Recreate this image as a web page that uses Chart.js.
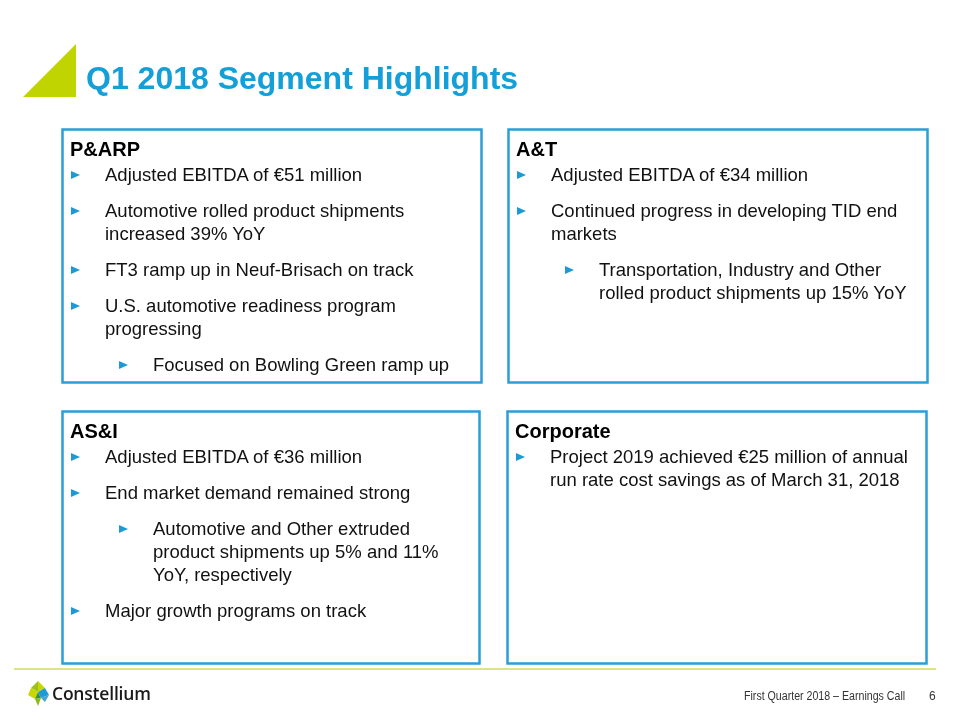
<!DOCTYPE html>
<html>
<head>
<meta charset="utf-8">
<script src="https://cdn.jsdelivr.net/npm/chart.js@4.4.1/dist/chart.umd.min.js"></script>
<style>
  html, body { margin:0; padding:0; background:#fff; }
  #stage { position:relative; width:960px; height:720px; overflow:hidden; font-family:"Liberation Sans", Arial, sans-serif; }
  #deco { position:absolute; left:0; top:0; }
  .title { position:absolute; left:86px; top:58px; font-size:32px; font-weight:bold; color:#149fd8; line-height:40px; white-space:nowrap; }
  .box { position:absolute; }
  .hdr { font-size:20px; font-weight:bold; color:#000; line-height:23px; white-space:nowrap; }
  .p { position:relative; font-size:18.5px; line-height:23px; color:#111; margin-top:13px; white-space:nowrap; }
  .p .arr { position:absolute; top:7.5px; width:0; height:0; border-top:4.5px solid transparent; border-bottom:4.5px solid transparent; border-left:9px solid #1b9ad6; }
  .foot { position:absolute; top:689px; font-size:12px; color:#333; line-height:14px; white-space:nowrap; }
  .brand { position:absolute; left:52px; top:681px; font-family:"Open Sans", sans-serif; font-size:17.5px; font-weight:600; color:#1a1a1a; line-height:24px; letter-spacing:-0.2px; }
</style>
</head>
<body>
<div id="stage">
  <canvas id="deco" width="960" height="720"></canvas>
  <div class="title" id="title"></div>
  <div id="boxes"></div>
  <div class="brand" id="brand"></div>
  <div class="foot" id="footL" style="left:744px; transform-origin:0 0; transform:scaleX(0.885);"></div>
  <div class="foot" id="footR" style="left:929px;"></div>
</div>
<script>
// ---- content data ----
const slideTitle = "Q1 2018 Segment Highlights";
const sectionNames = ["P&ARP", "A&T", "AS&I", "Corporate"];
// each bullet: [level, line1, line2, ...]
const parpBullets = [
  [1, "Adjusted EBITDA of €51 million"],
  [1, "Automotive rolled product shipments", "increased 39% YoY"],
  [1, "FT3 ramp up in Neuf-Brisach on track"],
  [1, "U.S. automotive readiness program", "progressing"],
  [2, "Focused on Bowling Green ramp up"]
];
const atBullets = [
  [1, "Adjusted EBITDA of €34 million"],
  [1, "Continued progress in developing TID end", "markets"],
  [2, "Transportation, Industry and Other", "rolled product shipments up 15% YoY"]
];
const asiBullets = [
  [1, "Adjusted EBITDA of €36 million"],
  [1, "End market demand remained strong"],
  [2, "Automotive and Other extruded", "product shipments up 5% and 11%", "YoY, respectively"],
  [1, "Major growth programs on track"]
];
const corpBullets = [
  [1, "Project 2019 achieved €25 million of annual", "run rate cost savings as of March 31, 2018"]
];
const footerText = "First Quarter 2018 – Earnings Call";
const pageNumber = "6";
const brandName = "Constellium";

// ---- layout (styles/positions kept separate from data) ----
const boxRects = [
  {x:62, y:129, w:419, h:253},
  {x:508, y:129, w:419, h:253},
  {x:62, y:411, w:417, h:252},
  {x:507, y:411, w:419, h:252}
];
const allBullets = [parpBullets, atBullets, asiBullets, corpBullets];

document.getElementById('title').textContent = slideTitle;
document.getElementById('brand').textContent = brandName;
document.getElementById('footL').textContent = footerText;
document.getElementById('footR').textContent = pageNumber;

const boxesEl = document.getElementById('boxes');
boxRects.forEach((r, i) => {
  const d = document.createElement('div');
  d.className = 'box';
  d.style.left = (r.x + 8) + 'px';
  d.style.top = (r.y + 8.5) + 'px';
  const h = document.createElement('div');
  h.className = 'hdr';
  h.textContent = sectionNames[i];
  d.appendChild(h);
  allBullets[i].forEach((b, k) => {
    const p = document.createElement('div');
    p.className = 'p';
    if (k === 0) p.style.marginTop = '2.75px';
    const lvl = b[0];
    const arrowX = lvl === 1 ? 1 : 49;
    const textX = lvl === 1 ? 35 : 83;
    p.style.paddingLeft = textX + 'px';
    const a = document.createElement('span');
    a.className = 'arr';
    a.style.left = arrowX + 'px';
    p.appendChild(a);
    b.slice(1).forEach((ln, j) => {
      if (j > 0) p.appendChild(document.createElement('br'));
      p.appendChild(document.createTextNode(ln));
    });
    d.appendChild(p);
  });
  boxesEl.appendChild(d);
});

// ---- decorations drawn through a Chart.js plugin ----
const decoPlugin = {
  id: 'slideDeco',
  beforeDraw(chart) {
    const ctx = chart.ctx;
    ctx.save();
    ctx.fillStyle = '#ffffff';
    ctx.fillRect(0, 0, 960, 720);
    // lime triangle
    ctx.fillStyle = '#bfd400';
    ctx.beginPath();
    ctx.moveTo(23, 97); ctx.lineTo(76, 44); ctx.lineTo(76, 97); ctx.closePath();
    ctx.fill();
    // boxes
    ctx.strokeStyle = '#2a9fd6';
    ctx.lineWidth = 2.5;
    boxRects.forEach(r => ctx.strokeRect(r.x + 0.5, r.y + 0.5, r.w, r.h));
    // footer rule
    ctx.strokeStyle = '#cfdc5c';
    ctx.lineWidth = 1.5;
    ctx.beginPath(); ctx.moveTo(14, 669); ctx.lineTo(936, 669); ctx.stroke();
    // logo mark
    const poly = (pts, c) => { ctx.fillStyle = c; ctx.beginPath(); ctx.moveTo(pts[0][0], pts[0][1]); for (let i=1;i<pts.length;i++) ctx.lineTo(pts[i][0], pts[i][1]); ctx.closePath(); ctx.fill(); };
    poly([[38,681],[45,688],[38,692]], '#c6d800');
    poly([[38,681],[31,688],[38,692]], '#9cc21a');
    poly([[45,688],[49,695],[41,698],[38,692]], '#1e9bd7');
    poly([[28,695],[31,688],[38,692],[35,699]], '#c6d800');
    poly([[35,699],[41,698],[38,692]], '#3e8f3a');
    poly([[35,699],[41,698],[38,706]], '#8cbc1c');
    poly([[41,698],[49,695],[45,702]], '#44a6d0');
    ctx.restore();
  }
};

new Chart(document.getElementById('deco'), {
  type: 'scatter',
  data: { datasets: [] },
  options: {
    responsive: false,
    animation: false,
    events: [],
    layout: { padding: 0 },
    plugins: { legend: { display: false }, tooltip: { enabled: false } },
    scales: { x: { display: false }, y: { display: false } }
  },
  plugins: [decoPlugin]
});
</script>
</body>
</html>
